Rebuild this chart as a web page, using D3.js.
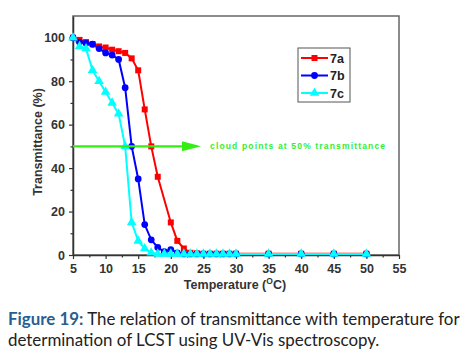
<!DOCTYPE html>
<html><head><meta charset="utf-8">
<script src="https://cdn.jsdelivr.net/npm/d3@7"></script>
<style>body{margin:0;background:#fff}svg{display:block}</style>
</head><body>
<script>
const xs7a = [5,6,7,8,9,10,11,12,13,14,15,16,17,18,20,21,22,23,24,25,26,27,28,29,30,35,40,45,50];
const ys7a = [100,99,98,97,96,95.5,94.5,93.8,93,90.5,85,67,50,36,15,6.5,3,1,0.8,0.6,0.6,0.6,0.6,0.6,0.6,0.6,0.6,0.6,0.6];
const xs7b = [5,6,7,8,9,10,11,12,13,14,15,16,17,18,19,20,21,22,23,24,25,26,27,28,29,30,35,40,45,50];
const ys7b = [100,98,97.5,97,95,93,92,90,77,50,35,14,7,3.5,1.5,2.5,1,0.5,0.5,0.5,0.5,0.5,0.5,0.5,0.5,0.5,0.5,0.5,0.5,0.5];
const xs7c = [5,6,7,8,9,10,11,12,13,14,15,16,17,18,19,20,21,22,23,24,25,26,27,28,29,30,35,40,45,50];
const ys7c = [100,96,95,85,80,75,70,65,50,15,6.5,3,1,0.5,0.5,0.5,0.5,0.5,0.5,0.5,0.5,0.5,0.5,0.5,0.5,0.5,0.5,0.5,0.5,0.5];
const seriesNames = ["7a","7b","7c"];
const seriesColors = ["#ff0000","#0000ff","#00ffff"];
const xTicks = [5,10,15,20,25,30,35,40,45,50,55];
const yTicks = [0,20,40,60,80,100];
const annotationText = "cloud points at 50% transmittance";
const captionBold = "Figure 19:";
const captionLine1 = " The relation of transmittance with temperature for";
const captionLine2 = "determination of LCST using UV-Vis spectroscopy.";

const W=469,H=355;
const svg=d3.select("body").append("svg").attr("width",W).attr("height",H);
const L=73,R=399,T=16,B=255;
const x=d3.scaleLinear().domain([5,55]).range([L,R]);
const y=d3.scaleLinear().domain([0,110]).range([B,T]);

svg.append("rect").attr("x",L).attr("y",T).attr("width",R-L).attr("height",B-T)
  .attr("fill","none").attr("stroke","#666").attr("stroke-width",1.5);

const tickFont="Liberation Sans, Arial, sans-serif";
const xAx=svg.append("g").attr("transform",`translate(0,${B})`)
  .call(d3.axisBottom(x).tickValues(xTicks).tickSize(4).tickSizeOuter(0));
svg.append("g").attr("transform",`translate(0,${B})`)
  .call(d3.axisBottom(x).tickValues(d3.range(7.5,55,5)).tickSize(2.5).tickSizeOuter(0).tickFormat(""))
  .call(g=>g.select(".domain").remove());
const yAx=svg.append("g").attr("transform",`translate(${L},0)`)
  .call(d3.axisLeft(y).tickValues(yTicks).tickSize(4).tickSizeOuter(0));
svg.append("g").attr("transform",`translate(${L},0)`)
  .call(d3.axisLeft(y).tickValues([10,30,50,70,90]).tickSize(2.5).tickSizeOuter(0).tickFormat(""))
  .call(g=>g.select(".domain").remove());
svg.selectAll(".domain").attr("stroke","#333").attr("stroke-width",1.5);
svg.selectAll(".tick line").attr("stroke","#333").attr("stroke-width",1.2);
xAx.selectAll("text").attr("font-family",tickFont).attr("font-weight","bold").attr("font-size",12.5).attr("fill","#333").attr("dy","0.85em");
yAx.selectAll("text").attr("font-family",tickFont).attr("font-weight","bold").attr("font-size",12.5).attr("fill","#333").attr("dx","-1");

svg.append("text").attr("transform",`translate(42,142) rotate(-90)`).attr("text-anchor","middle")
  .attr("font-family",tickFont).attr("font-weight","bold").attr("font-size",12.5).attr("fill","#333").text("Transmittance (%)");
const xt=svg.append("text").attr("x",235).attr("y",289).attr("text-anchor","middle")
  .attr("font-family",tickFont).attr("font-weight","bold").attr("font-size",12.5).attr("fill","#333");
xt.append("tspan").text("Temperature (");
xt.append("tspan").attr("font-size",8.5).attr("dy",-5).text("O");
xt.append("tspan").attr("dy",5).text("C)");

const data=[xs7a.map((v,i)=>[v,ys7a[i]]),xs7b.map((v,i)=>[v,ys7b[i]]),xs7c.map((v,i)=>[v,ys7c[i]])];
const line=d3.line().x(d=>x(d[0])).y(d=>y(d[1]));
const syms=[d3.symbolSquare,d3.symbolCircle,d3.symbolTriangle];
const sizes=[36,36,40];
data.forEach((d,i)=>{
  svg.append("path").datum(d).attr("d",line).attr("fill","none").attr("stroke",seriesColors[i]).attr("stroke-width",2);
});
[0,1,2].forEach(i=>{
  svg.append("g").selectAll("path").data(data[i]).join("path")
    .attr("transform",d=>`translate(${x(d[0])},${y(d[1])})`)
    .attr("d",d3.symbol().type(syms[i]).size(sizes[i])).attr("fill",seriesColors[i]);
});
const ag="#33ee11";
svg.append("line").attr("x1",L).attr("x2",184).attr("y1",y(50)).attr("y2",y(50)).attr("stroke",ag).attr("stroke-width",2.2);
svg.append("path").attr("d",`M${182},${y(50)-5}L${201},${y(50)}L${182},${y(50)+5}Z`).attr("fill",ag);
svg.append("text").attr("x",210).attr("y",y(50)+3).attr("font-family",tickFont).attr("font-weight","bold")
  .attr("font-size",8.5).attr("fill","#33ee33").attr("textLength",175).text(annotationText);

svg.append("rect").attr("x",298).attr("y",48).attr("width",52).attr("height",54).attr("fill","#fff").attr("stroke","#555").attr("stroke-width",1);
seriesNames.forEach((n,i)=>{
  const ly=58+i*17.5;
  svg.append("line").attr("x1",301).attr("x2",328).attr("y1",ly).attr("y2",ly).attr("stroke",seriesColors[i]).attr("stroke-width",2);
  svg.append("path").attr("transform",`translate(314.5,${ly})`).attr("d",d3.symbol().type(syms[i]).size(sizes[i])).attr("fill",seriesColors[i]);
  svg.append("text").attr("x",330).attr("y",ly+4.5).attr("font-family",tickFont).attr("font-weight","bold").attr("font-size",12.5).attr("fill","#222").text(n);
});

const capFont="Lato, 'Open Sans', sans-serif";
const cap=svg.append("text").attr("x",8).attr("y",325).attr("font-family",capFont).attr("font-size",16.9).attr("fill","#222");
cap.append("tspan").attr("font-weight","bold").attr("fill","#2a5d8f").text(captionBold);
cap.append("tspan").text(captionLine1);
svg.append("text").attr("x",8).attr("y",346).attr("font-family",capFont).attr("font-size",16.9).attr("fill","#222").text(captionLine2);
</script>
</body></html>
